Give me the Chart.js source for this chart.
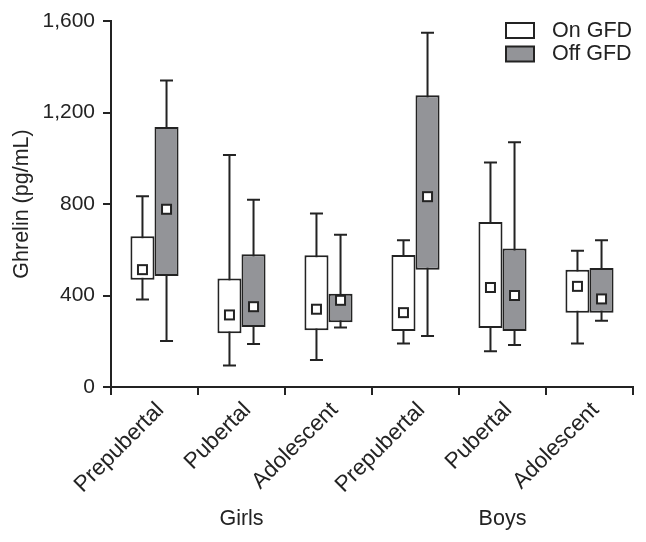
<!DOCTYPE html>
<html>
<head>
<meta charset="utf-8">
<script src="https://cdn.jsdelivr.net/npm/chart.js@4.4.1/dist/chart.umd.min.js"></script>
<style>
  html, body { margin: 0; padding: 0; background: #fff; }
  #wrap { width: 646px; height: 542px; }
</style>
</head>
<body>
<div id="wrap"><canvas id="chart" width="646" height="542"></canvas></div>
<script>
// categories along the x axis, and the group name under each half
const stages = ['Prepubertal', 'Pubertal', 'Adolescent', 'Prepubertal', 'Pubertal', 'Adolescent'];
const groups = ['Girls', 'Boys'];
const groupMiddle = [1, 4]; // category index the group name is centred on

// On GFD (pg/mL): whisker low, box low, box high, whisker high, mean
const onMin  = [382,   94, 118, 190, 156, 190];
const onQ1   = [469,  235, 248, 245, 258, 325];
const onQ3   = [659,  474, 576, 577, 721, 513];
const onMax  = [834, 1014, 758, 641, 981, 596];
const onMean = [513,  315, 340, 325, 435, 440];

// Off GFD (pg/mL)
const offMin  = [201,  188, 260,  223,  184, 290];
const offQ1   = [485,  262, 283,  513,  245, 325];
const offQ3   = [1137, 580, 408, 1275,  606, 520];
const offMax  = [1340, 819, 666, 1549, 1070, 641];
const offMean = [777,  351, 379,  832,  400, 385];

const yMin = 0, yMax = 1600, yStep = 400;

const INK = '#232323';
const GREY = '#939498';
const FONT = "'Liberation Sans', Arial, Helvetica, sans-serif";

const series = [
  { label: 'On GFD',  fill: '#ffffff', lo: onMin,  q1: onQ1,  q3: onQ3,  hi: onMax,  mean: onMean },
  { label: 'Off GFD', fill: GREY,      lo: offMin, q1: offQ1, q3: offQ3, hi: offMax, mean: offMean }
];

// whiskers behind the boxes, mean squares on top, then legend and group names
const boxExtras = {
  id: 'boxExtras',
  beforeDatasetsDraw(chart) {
    const ctx = chart.ctx;
    const y = chart.scales.y;
    ctx.save();
    ctx.strokeStyle = INK;
    ctx.lineWidth = 2;
    series.forEach((s, i) => {
      chart.getDatasetMeta(i).data.forEach((bar, j) => {
        const yLo = y.getPixelForValue(s.lo[j]);
        const yHi = y.getPixelForValue(s.hi[j]);
        ctx.beginPath();
        ctx.moveTo(bar.x, yLo); ctx.lineTo(bar.x, yHi);
        ctx.moveTo(bar.x - 6.5, yLo); ctx.lineTo(bar.x + 6.5, yLo);
        ctx.moveTo(bar.x - 6.5, yHi); ctx.lineTo(bar.x + 6.5, yHi);
        ctx.stroke();
      });
    });
    ctx.restore();
  },
  afterDatasetsDraw(chart) {
    const ctx = chart.ctx;
    const y = chart.scales.y;
    ctx.save();
    ctx.strokeStyle = INK;
    ctx.fillStyle = '#ffffff';
    ctx.lineWidth = 2;
    series.forEach((s, i) => {
      chart.getDatasetMeta(i).data.forEach((bar, j) => {
        const py = y.getPixelForValue(s.mean[j]);
        ctx.fillRect(bar.x - 4.5, py - 4.5, 9, 9);
        ctx.strokeRect(bar.x - 4.5, py - 4.5, 9, 9);
      });
    });
    ctx.restore();
  },
  afterDraw(chart) {
    const ctx = chart.ctx;
    const x = chart.scales.x;
    ctx.save();
    ctx.fillStyle = INK;
    ctx.font = '21.5px ' + FONT;
    ctx.textAlign = 'center';
    ctx.textBaseline = 'middle';
    groups.forEach((g, k) => {
      ctx.fillText(g, x.getPixelForValue(groupMiddle[k]), 519);
    });

    // legend, top right
    ctx.textAlign = 'left';
    ctx.lineWidth = 2;
    ctx.strokeStyle = INK;
    series.forEach((s, i) => {
      const top = 23 + i * 23.5;
      ctx.fillStyle = s.fill;
      ctx.fillRect(506, top, 28, 15);
      ctx.strokeRect(506, top, 28, 15);
      ctx.fillStyle = INK;
      ctx.font = '21.5px ' + FONT;
      ctx.fillText(s.label, 552, top + 8);
    });
    ctx.restore();
  }
};

new Chart(document.getElementById('chart'), {
  type: 'bar',
  data: {
    labels: stages,
    datasets: series.map(s => ({
      label: s.label,
      data: s.q1.map((v, j) => [v, s.q3[j]]),
      backgroundColor: s.fill,
      borderColor: INK,
      borderWidth: 2,
      borderSkipped: false,
      barPercentage: 1,
      categoryPercentage: 0.553
    }))
  },
  options: {
    responsive: false,
    animation: false,
    layout: { padding: { top: 21, right: 13, left: 0, bottom: 0 } },
    plugins: {
      legend: { display: false },
      tooltip: { enabled: false }
    },
    scales: {
      x: {
        grid: { drawOnChartArea: false, tickLength: 8, color: INK, lineWidth: 2, offset: true },
        border: { color: INK, width: 2 },
        ticks: {
          color: INK,
          font: { family: FONT, size: 22.5 },
          minRotation: 45,
          maxRotation: 45,
          autoSkip: false,
          padding: 2,
          labelOffset: 6
        },
        afterFit(scale) { scale.height = 155; }
      },
      y: {
        min: yMin,
        max: yMax,
        grid: { drawOnChartArea: false, tickLength: 8, color: INK, lineWidth: 2 },
        border: { color: INK, width: 2 },
        ticks: {
          stepSize: yStep,
          color: INK,
          padding: 8,
          font: { family: FONT, size: 21 },
          callback: v => v.toLocaleString('en-US')
        },
        title: {
          display: true,
          text: 'Ghrelin (pg/mL)',
          color: INK,
          font: { family: FONT, size: 21.5 },
          padding: { top: 9, bottom: 0 }
        },
        afterFit(scale) { scale.width = 111; }
      }
    }
  },
  plugins: [boxExtras]
});
</script>
</body>
</html>
